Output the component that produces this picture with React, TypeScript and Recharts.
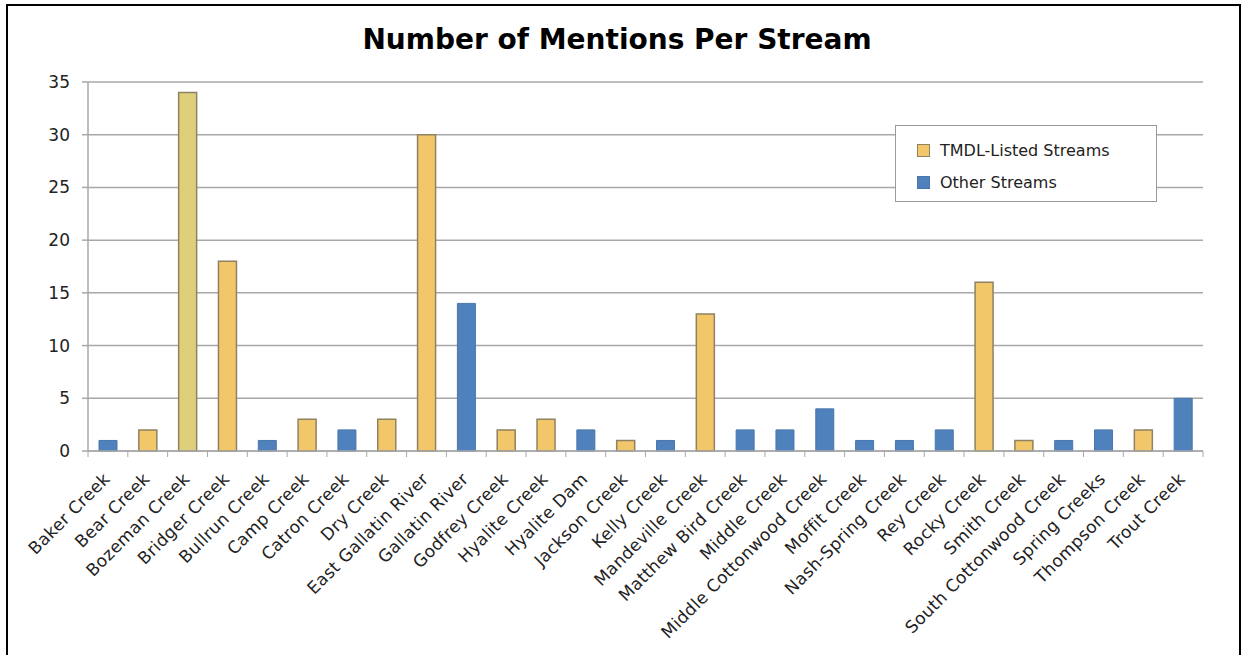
import React from "react";
import { Bar, BarChart, CartesianGrid, Cell, Legend, XAxis, YAxis } from "recharts";

const streams = [
  "Baker Creek",
  "Bear Creek",
  "Bozeman Creek",
  "Bridger Creek",
  "Bullrun Creek",
  "Camp Creek",
  "Catron Creek",
  "Dry Creek",
  "East Gallatin River",
  "Gallatin River",
  "Godfrey Creek",
  "Hyalite Creek",
  "Hyalite Dam",
  "Jackson Creek",
  "Kelly Creek",
  "Mandeville Creek",
  "Matthew Bird Creek",
  "Middle Creek",
  "Middle Cottonwood Creek",
  "Moffit Creek",
  "Nash-Spring Creek",
  "Rey Creek",
  "Rocky Creek",
  "Smith Creek",
  "South Cottonwood Creek",
  "Spring Creeks",
  "Thompson Creek",
  "Trout Creek",
];

const tmdlListed = [
  null, 2, 34, 18, null, 3, null, 3, 30, null, 2, 3, null, 1,
  null, 13, null, null, null, null, null, null, 16, 1, null, null, 2, null,
];

const otherStreams = [
  1, null, null, null, 1, null, 2, null, null, 14, null, null, 2, null,
  1, null, 2, 2, 4, 1, 1, 2, null, null, 1, 2, null, 5,
];

const yTicks = [0, 5, 10, 15, 20, 25, 30, 35];

const TMDL_FILL = "#f2c76a";
const TMDL_EDGE = "#8f8262";
const BOZEMAN_FILL = "#ded07a";
const OTHER_FILL = "#4f81bd";
const OTHER_EDGE = "#4a76ab";
const GRID = "#a8a8a8";
const FONT = "'DejaVu Sans', Verdana, sans-serif";

const data = streams.map((name, i) => ({
  name,
  tmdl: tmdlListed[i],
  other: otherStreams[i],
}));

function StreamTick(props: any) {
  const { x, y, payload, index, visibleTicksCount } = props;
  const half = payload.offset ?? 20;
  const last = index === visibleTicksCount - 1;
  const ax = x + 3;
  const ay = y + 21;
  return (
    <g>
      <line x1={x - half} y1={y - 8} x2={x - half} y2={y - 2} stroke={GRID} />
      {last && <line x1={x + half} y1={y - 8} x2={x + half} y2={y - 2} stroke={GRID} />}
      <text
        x={ax}
        y={ay}
        textAnchor="end"
        fontSize={17}
        letterSpacing={0.3}
        fontFamily={FONT}
        fill="#222"
        transform={`rotate(-45 ${ax} ${ay})`}
      >
        {payload.value}
      </text>
    </g>
  );
}

function LegendBox() {
  const items = [
    { label: "TMDL-Listed Streams", fill: TMDL_FILL, edge: TMDL_EDGE },
    { label: "Other Streams", fill: OTHER_FILL, edge: OTHER_EDGE },
  ];
  return (
    <div
      style={{
        width: 262,
        height: 77,
        background: "#fff",
        border: "1px solid #9a9a9a",
        boxSizing: "border-box",
        padding: "8px 0 0 21px",
        fontFamily: FONT,
        fontSize: 16,
        color: "#222",
      }}
    >
      {items.map((it) => (
        <div key={it.label} style={{ display: "flex", alignItems: "center", height: 32 }}>
          <span
            style={{
              width: 13,
              height: 13,
              background: it.fill,
              border: `1px solid ${it.edge}`,
              boxSizing: "border-box",
              marginRight: 10,
            }}
          />
          {it.label}
        </div>
      ))}
    </div>
  );
}

export default function App() {
  return (
    <div style={{ position: "relative", width: 1241, height: 655, overflow: "hidden", background: "#fff" }}>
      <style>{`body{margin:0;overflow:hidden;background:#fff}`}</style>
      <div
        style={{
          position: "absolute",
          left: 6,
          top: 4,
          width: 1235,
          height: 700,
          border: "2px solid #000",
          boxSizing: "border-box",
        }}
      />
      <div
        style={{
          position: "absolute",
          left: 0,
          top: 23,
          width: 1234,
          textAlign: "center",
          fontFamily: FONT,
          fontWeight: "bold",
          fontSize: 28,
          color: "#000",
        }}
      >
        Number of Mentions Per Stream
      </div>
      <div style={{ position: "absolute", left: 0, top: 0 }}>
        <BarChart
          width={1241}
          height={655}
          data={data}
          margin={{ top: 82, right: 38, left: 0, bottom: 0 }}
          barSize={18}
        >
          <CartesianGrid horizontal vertical={false} stroke={GRID} strokeWidth={1.5} />
          <XAxis
            dataKey="name"
            interval={0}
            height={204}
            stroke={GRID}
            strokeWidth={1.5}
            tickLine={false}
            tick={<StreamTick />}
          />
          <YAxis
            width={88}
            domain={[0, 35]}
            ticks={yTicks}
            stroke={GRID}
            strokeWidth={1.5}
            tickSize={6}
            tickMargin={12}
            tick={{ fontSize: 17, fontFamily: FONT, fill: "#222" }}
          />
          <Legend
            layout="vertical"
            align="center"
            verticalAlign="middle"
            content={<LegendBox />}
            wrapperStyle={{ position: "absolute", left: 895, top: 125, width: 262 }}
          />
          <Bar dataKey="tmdl" name="TMDL-Listed Streams" stackId="s" fill={TMDL_FILL} stroke={TMDL_EDGE} strokeWidth={1.5} isAnimationActive={false}>
            {data.map((d) => (
              <Cell key={d.name} fill={d.name === "Bozeman Creek" ? BOZEMAN_FILL : TMDL_FILL} />
            ))}
          </Bar>
          <Bar dataKey="other" name="Other Streams" stackId="s" fill={OTHER_FILL} stroke={OTHER_EDGE} strokeWidth={1} isAnimationActive={false} />
        </BarChart>
      </div>
    </div>
  );
}
